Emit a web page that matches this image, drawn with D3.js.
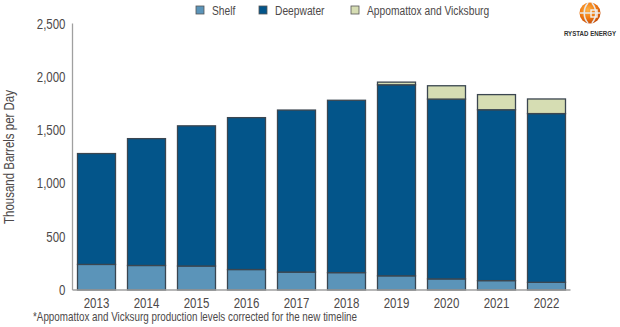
<!DOCTYPE html>
<html>
<head>
<meta charset="utf-8">
<script src="https://cdn.jsdelivr.net/npm/d3@7"></script>
<style>
  body { margin: 0; background: #fff; }
  text { font-family: "Liberation Sans", Arial, sans-serif; fill: #4d4949; }
</style>
</head>
<body>
<script>
var years = ["2013", "2014", "2015", "2016", "2017", "2018", "2019", "2020", "2021", "2022"];
var shelf = [240, 230, 225, 192, 168, 163, 133, 104, 88, 72];
var deepwater = [1040, 1190, 1315, 1425, 1520, 1617, 1792, 1687, 1603, 1583];
var appomattox = [0, 0, 0, 0, 0, 0, 25, 125, 142, 137];
var seriesNames = ["Shelf", "Deepwater", "Appomattox and Vicksburg"];
var seriesColors = ["#5b94b9", "#03558a", "#d6ddb3"];
var yTicks = [0, 500, 1000, 1500, 2000, 2500];

var W = 620, H = 327;
var NARROW = 0.82; // the original uses a condensed face, squeeze the regular one
var svg = d3.select("body").append("svg").attr("width", W).attr("height", H);

var x = d3.scaleBand().domain(years).range([72.5, 570.5]).paddingInner(0.24).paddingOuter(0.1);
var y = d3.scaleLinear().domain([0, 2500]).range([290, 23.5]);

// put a condensed text at (px, py), optional rotation
function narrowText(parent, px, py, txt, size, anchor, rot) {
    var g = parent.append("g")
        .attr("transform", "translate(" + px + "," + py + ")" + (rot ? " rotate(" + rot + ")" : "") + " scale(" + NARROW + ",1)");
    return g.append("text")
        .attr("text-anchor", anchor || "start")
        .style("font-size", size + "px")
        .text(txt);
}

// stack the three series
var rows = years.map(function(yr, i) {
    return { year: yr, Shelf: shelf[i], Deepwater: deepwater[i], "Appomattox and Vicksburg": appomattox[i] };
});
var stacked = d3.stack().keys(seriesNames)(rows);

var groups = svg.selectAll("g.series")
    .data(stacked)
    .enter()
    .append("g")
    .attr("class", "series")
    .attr("fill", function(d, i) { return seriesColors[i]; });

groups.selectAll("rect")
    .data(function(d) { return d.filter(function(p) { return p[1] - p[0] > 0; }); })
    .enter()
    .append("rect")
    .attr("x", function(d) { return x(d.data.year); })
    .attr("width", x.bandwidth())
    .attr("y", function(d) { return y(d[1]); })
    .attr("height", function(d) { return y(d[0]) - y(d[1]); })
    .attr("stroke", "#3b4650")
    .attr("stroke-width", 1.3);

// axes
svg.append("line")
    .attr("x1", x.range()[0]).attr("x2", x.range()[0])
    .attr("y1", y(2500)).attr("y2", y(0))
    .attr("stroke", "#a0a0a0").attr("stroke-width", 1.3);
svg.append("line")
    .attr("x1", x.range()[0]).attr("x2", x.range()[1])
    .attr("y1", y(0)).attr("y2", y(0))
    .attr("stroke", "#a0a0a0").attr("stroke-width", 1.3);

yTicks.forEach(function(d) {
    narrowText(svg, 65.5, y(d) + 5, d3.format(",")(d), 14, "end");
});

years.forEach(function(d) {
    narrowText(svg, x(d) + x.bandwidth() / 2, 308, d, 14, "middle");
});

narrowText(svg, 14, 157, "Thousand Barrels per Day", 14, "middle", -90);

narrowText(svg, 33, 321, "*Appomattox and Vicksurg production levels corrected for the new timeline", 12, "start");

// legend
var legendX = [196, 259, 351];
seriesNames.forEach(function(d, i) {
    svg.append("rect")
        .attr("x", legendX[i]).attr("y", 6)
        .attr("width", 8).attr("height", 8)
        .attr("fill", seriesColors[i])
        .attr("stroke", "#555").attr("stroke-width", 0.8);
    narrowText(svg, legendX[i] + 16, 15, d, 12.5, "start");
});

// logo
var defs = svg.append("defs");
var grad = defs.append("radialGradient").attr("id", "globe").attr("cx", "40%").attr("cy", "35%").attr("r", "65%");
grad.append("stop").attr("offset", "0%").attr("stop-color", "#ffb347");
grad.append("stop").attr("offset", "60%").attr("stop-color", "#f07a12");
grad.append("stop").attr("offset", "100%").attr("stop-color", "#c9500a");
var logo = svg.append("g").attr("transform", "translate(590,13)");
logo.append("circle").attr("r", 10.5).attr("fill", "url(#globe)");
logo.append("path")
    .attr("d", "M-2,-10 C-7,-5 -7,5 -2,10 M2,-10 C7,-4 7,4 2,10 M-10,0 L10,0")
    .attr("fill", "none").attr("stroke", "#e8e8e8").attr("stroke-width", 1.6);
logo.append("rect").attr("x", 1).attr("y", -3).attr("width", 6).attr("height", 7)
    .attr("fill", "none").attr("stroke", "#f2f2f2").attr("stroke-width", 1.4);
narrowText(svg, 590, 36, "RYSTAD ENERGY", 7.5, "middle")
    .style("font-weight", "bold")
    .style("fill", "#333");
</script>
</body>
</html>
